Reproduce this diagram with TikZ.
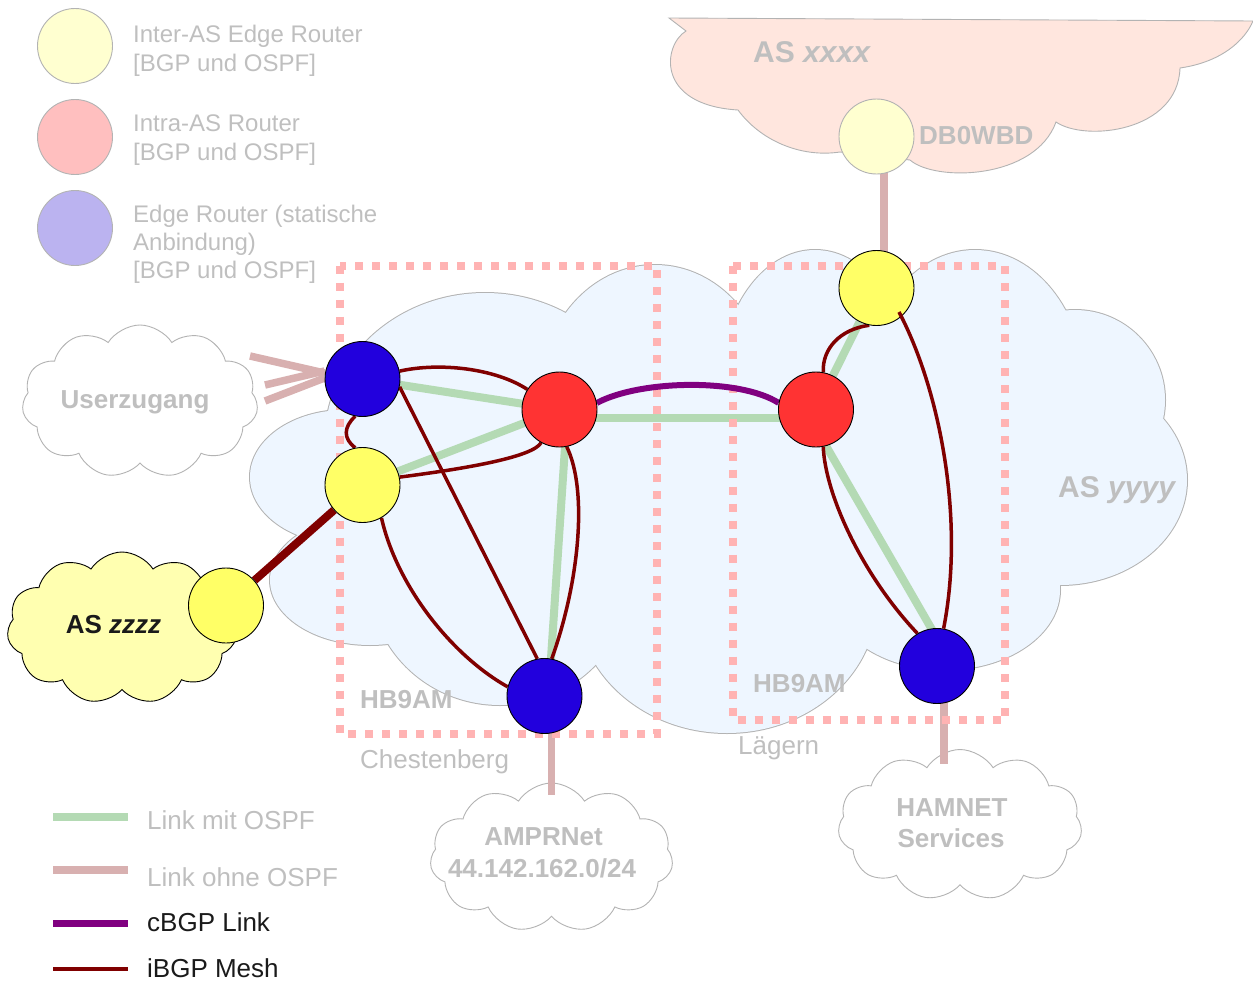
\documentclass[tikz,border=0pt]{standalone}
\usepackage{fontspec}
\setmainfont{Liberation Sans}
\usetikzlibrary{shapes.symbols}
\definecolor{txtgray}{RGB}{191,191,191}
\definecolor{olgray}{RGB}{179,179,179}
\definecolor{ospfgreen}{RGB}{180,218,180}
\definecolor{nopink}{RGB}{216,176,176}
\definecolor{cbgpc}{RGB}{128,0,128}
\definecolor{ibgpc}{RGB}{128,0,0}
\definecolor{boxpink}{RGB}{255,179,179}
\definecolor{cloudblue}{RGB}{238,246,255}
\definecolor{asxfill}{RGB}{255,230,222}
\definecolor{aszfill}{RGB}{255,255,176}
\definecolor{ynode}{RGB}{255,255,102}
\definecolor{rnode}{RGB}{255,51,51}
\definecolor{bnode}{RGB}{34,0,221}
\definecolor{lgyellow}{RGB}{255,255,208}
\definecolor{lgred}{RGB}{255,191,191}
\definecolor{lgpurple}{RGB}{187,179,240}
\definecolor{blacktxt}{RGB}{26,26,26}
\pgfdeclarelayer{cloudlayer}
\pgfdeclarelayer{linklayer}
\pgfdeclarelayer{boxlayer}
\pgfdeclarelayer{edgelayer}
\pgfsetlayers{cloudlayer,linklayer,boxlayer,edgelayer,main}
\begin{document}
\begin{tikzpicture}[x=1pt,y=-1pt,
  router/.style={circle,draw=black,line width=0.9pt,minimum size=75pt,inner sep=0pt},
  legcircle/.style={circle,draw=olgray,line width=0.9pt,minimum size=75pt,inner sep=0pt},
  ospf/.style={line width=8pt,draw=ospfgreen},
  noospf/.style={line width=7.5pt,draw=nopink},
  ibgp/.style={line width=3.5pt,draw=ibgpc},
  cbgp/.style={line width=6pt,draw=cbgpc},
  ebgp/.style={line width=8pt,draw=ibgpc},
  dotbox/.style={draw=boxpink,line width=8pt,dash pattern=on 8pt off 9pt},
  smallcloud/.style={cloud,cloud puffs=11,cloud puff arc=115,cloud ignores aspect,inner sep=0pt,line width=0.9pt},
  legtxt/.style={anchor=base west,inner sep=0pt,text=txtgray,font=\fontsize{24}{28}\selectfont},
  linktxt/.style={anchor=base west,inner sep=0pt,text=txtgray,font=\fontsize{26}{30}\selectfont},
  blacktext/.style={anchor=base west,inner sep=0pt,text=blacktxt,font=\fontsize{26}{30}\selectfont},
  boldlab/.style={inner sep=0pt,text=txtgray,font=\bfseries\fontsize{26}{30}\selectfont},
  biglab/.style={anchor=base west,inner sep=0pt,text=txtgray,font=\bfseries\fontsize{30}{34}\selectfont},
  plainlab/.style={anchor=base west,inner sep=0pt,text=txtgray,font=\fontsize{26}{30}\selectfont}
]
\useasboundingbox (0,0) rectangle (1253,982);

% ---------- routers ----------
\node[router,fill=bnode] (bt) at (362.5,379) {};
\node[router,fill=ynode] (yc) at (362.5,485) {};
\node[router,fill=rnode] (rc) at (559.5,409.5) {};
\node[router,fill=bnode] (bb) at (544.5,696) {};
\node[router,fill=ynode] (yl) at (876.5,288) {};
\node[router,fill=rnode] (rl) at (816,409.5) {};
\node[router,fill=bnode] (bl) at (937,666) {};
\node[router,fill=ynode] (zy) at (226,605.5) {};
\node[legcircle,fill=lgyellow] (db) at (876.5,136.5) {};

% ---------- legend circles ----------
\node[legcircle,fill=lgyellow] (lg1) at (75,46) {};
\node[legcircle,fill=lgred] (lg2) at (75,137) {};
\node[legcircle,fill=lgpurple] (lg3) at (75,228) {};

% ---------- clouds ----------
\begin{pgfonlayer}{cloudlayer}
  \foreach \cx/\cy/\rx/\ry in {345/477/95/67,370/580/100/65,485/440/160/147,655/395/115/130,815/385/95/135,975/390/110/140,1075/400/90/90,1060/480/127/105,945/590/115/80,727/600/150/133,500/580/130/125,720/480/330/150}
    \draw[olgray,line width=2pt] (\cx,\cy) ellipse [x radius=\rx pt,y radius=\ry pt];
  \foreach \cx/\cy/\rx/\ry in {345/477/95/67,370/580/100/65,485/440/160/147,655/395/115/130,815/385/95/135,975/390/110/140,1075/400/90/90,1060/480/127/105,945/590/115/80,727/600/150/133,500/580/130/125,720/480/330/150}
    \fill[cloudblue] (\cx,\cy) ellipse [x radius=\rx pt,y radius=\ry pt];
  % AS xxxx
  \draw[olgray,line width=0.9pt,fill=asxfill] (669,18) -- (686,31)
    .. controls (663,45) and (655,105) .. (738,110)
    .. controls (760,140) and (800,158) .. (840,152) -- (910,160)
    .. controls (935,182) and (1035,180) .. (1056,122)
    .. controls (1085,142) and (1178,132) .. (1180,68)
    .. controls (1222,62) and (1245,40) .. (1253,21) -- cycle;
  \node[smallcloud,draw=olgray,fill=white,minimum width=236pt,minimum height=153pt] (uzcloud) at (140,401.5) {};
  \node[smallcloud,draw=black,fill=aszfill,minimum width=230pt,minimum height=152pt] (zcloud) at (122,628) {};
  \node[smallcloud,draw=olgray,fill=white,minimum width=243pt,minimum height=149pt] (ampcloud) at (551.5,857.5) {};
  \node[smallcloud,draw=olgray,fill=white,minimum width=244pt,minimum height=151pt] (hamcloud) at (960,825) {};
\end{pgfonlayer}

% ---------- links with / without OSPF ----------
\coordinate (uz1) at (250,356);
\coordinate (uz2) at (265,385);
\coordinate (uz3) at (265,401);
\coordinate (hamtop) at (944,764);
\coordinate (amprtop) at (551.5,795);
\begin{pgfonlayer}{linklayer}
  \draw[ospf] (bt) -- (rc);
  \draw[ospf] (yc) -- (rc);
  \draw[ospf] ([xshift=8pt]rc.center) -- ([xshift=4pt]bb.center);
  \draw[ospf] ([yshift=-8pt]rc.center) -- ([yshift=-8pt]rl.center);
  \draw[ospf] (rl) -- (yl);
  \draw[ospf] ([xshift=-11pt]rl.center) -- ([xshift=16pt]bl.center);
  \draw[noospf] ([xshift=7.5pt]db.center) -- ([xshift=7.5pt]yl.center);
  \draw[noospf] ([xshift=7pt]bl.center) -- (hamtop);
  \draw[noospf] ([xshift=7pt]bb.center) -- (amprtop);
  \draw[noospf] (uz1) -- ([yshift=6pt]bt.west);
  \draw[noospf] (uz2) -- ([yshift=8pt]bt.west);
  \draw[noospf] (uz3) -- ([yshift=1pt]bt.west);
\end{pgfonlayer}

% ---------- site boxes ----------
\begin{pgfonlayer}{boxlayer}
  \draw[dotbox] (340,265.5) rectangle (657,733.5);
  \draw[dotbox] (733,265.5) rectangle (1005,720);
\end{pgfonlayer}

% ---------- BGP ----------
\begin{pgfonlayer}{edgelayer}
  \draw[ebgp] (zy) -- (yc);
  \draw[ibgp] (bt.12) .. controls +(40,-9) and +(-32,-21) .. (rc.148);
  \draw[ibgp] (bt.259) .. controls +(-12,11) and +(-12,-9) .. (yc.101);
  \draw[ibgp] (yc.12) .. controls +(70,-9) and +(-8,14) .. (rc.241);
  \draw[ibgp] (bt.-12) -- (bb.101);
  \draw[ibgp] (yc.300) .. controls +(15,67) and +(-57,-32) .. (bb.166);
  \draw[ibgp] (rc.-79) .. controls +(21,43) and +(28,-78) .. (bb.79);
  \draw[cbgp] (rc.10) .. controls +(43,-23) and +(-39,-25) .. (rl.170);
  \draw[ibgp] (yl.259) .. controls +(-29,4) and +(-1,-24) .. (rl.79);
  \draw[ibgp] (rl.-79) .. controls +(2,48) and +(-55,-58) .. (bl.121);
\end{pgfonlayer}
\draw[ibgp] ([shift={(22.5,24)}]yl.center) .. controls (940,390) and (965,520) .. (bl.80);

% ---------- labels ----------
\node[legtxt] (t1a) at (133,43) {Inter-AS Edge Router};
\node[legtxt] (t1b) at (133,72) {[BGP und OSPF]};
\node[legtxt] (t2a) at (133,131) {Intra-AS Router};
\node[legtxt] (t2b) at (133,160) {[BGP und OSPF]};
\node[legtxt] (t3a) at (133,222) {Edge Router (statische};
\node[legtxt] (t3b) at (133,250) {Anbindung)};
\node[legtxt] (t3c) at (133,278) {[BGP und OSPF]};

\node[biglab] (asx) at (753,63) {AS \textit{xxxx}};
\node[biglab] (asy) at (1058,497) {AS \textit{yyyy}};
\node[boldlab,anchor=base west] (dbl) at (919,144) {DB0WBD};
\node[boldlab,anchor=base] (uzl) at (135,408) {Userzugang};
\node[boldlab,anchor=base,text=blacktxt] (azl) at (113.5,633) {AS \textit{zzzz}};
\node[boldlab,anchor=base west] (hbc) at (360,708) {HB9AM};
\node[boldlab,anchor=base west] (hbl) at (753,692) {HB9AM};
\node[plainlab] (chl) at (360,768) {Chestenberg};
\node[plainlab] (lal) at (738,754) {Lägern};
\node[boldlab,anchor=base] (am1) at (543.5,845) {AMPRNet};
\node[boldlab,anchor=base] (am2) at (542,877) {44.142.162.0/24};
\node[boldlab,anchor=base] (hm1) at (952,816) {HAMNET};
\node[boldlab,anchor=base] (hm2) at (951,847) {Services};

% ---------- line legend ----------
\draw[ospf] (53,817) -- (128,817);
\draw[noospf] (53,870) -- (128,870);
\draw[cbgp,line width=7pt] (53,923) -- (128,923);
\draw[ibgp] (53,969) -- (128,969);
\node[linktxt] (lk1) at (147,829) {Link mit OSPF};
\node[linktxt] (lk2) at (147,886) {Link ohne OSPF};
\node[blacktext] (lk3) at (147,931) {cBGP Link};
\node[blacktext] (lk4) at (147,977) {iBGP Mesh};
\end{tikzpicture}
\end{document}
